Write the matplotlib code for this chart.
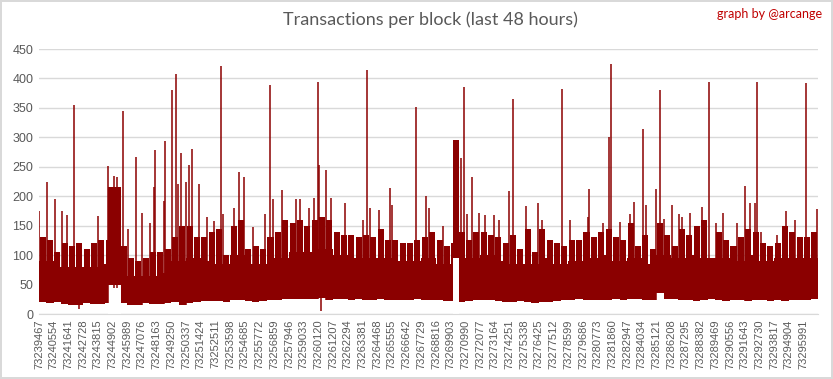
import numpy as np
import matplotlib
matplotlib.use("Agg")
import matplotlib.pyplot as plt

# Block range: 48 hours of blocks, labels every 1087 blocks
first_block = 73239467
n_blocks = 57600
label_step = 1087

# Upper edge of the dense band, one value per half label interval
band_top = [130, 125, 105, 120, 115, 120, 110, 120, 125, 125,
            120, 115, 95, 90, 95, 105, 105, 110, 130, 150,
            150, 130, 130, 140, 145, 100, 150, 160, 110, 115,
            110, 130, 140, 160, 155, 160, 150, 160, 165, 160,
            140, 135, 135, 130, 135, 130, 145, 125, 125, 120,
            120, 125, 130, 140, 125, 115, 120, 140, 125, 140,
            140, 135, 130, 120, 135, 110, 145, 105, 145, 125,
            120, 115, 125, 125, 140, 130, 140, 145, 130, 125,
            155, 115, 135, 110, 155, 135, 115, 145, 135, 150,
            160, 90, 140, 125, 115, 130, 145, 140, 120, 115,
            120, 150, 140, 130, 130, 140]

# Level up to which the band is solid, one value per label interval
band_core = [90, 80, 80, 80, 85, 80, 65, 65, 70, 90,
             95, 90, 85, 100, 85, 85, 95, 105, 105, 110,
             100, 95, 95, 95, 90, 90, 95, 85, 90, 95,
             100, 90, 85, 85, 95, 85, 90, 95, 100, 90,
             95, 85, 100, 95, 100, 95, 95, 90, 100, 90,
             95, 95, 95]

# Lower edge of the band (minimum tx per block), half interval bins
band_low = [20, 18, 20, 17, 15, 16, 18, 17, 17, 18,
            45, 18, 16, 15, 18, 17, 17, 18, 20, 15,
            18, 20, 22, 22, 22, 20, 23, 24, 22, 20,
            22, 23, 24, 25, 25, 26, 26, 25, 27, 24,
            25, 26, 24, 25, 23, 24, 25, 24, 23, 24,
            24, 25, 23, 24, 24, 22, 22, 20, 22, 23,
            24, 23, 22, 20, 21, 22, 20, 18, 20, 21,
            22, 23, 24, 25, 24, 23, 24, 23, 25, 24,
            26, 25, 24, 23, 35, 26, 25, 24, 23, 22,
            24, 25, 23, 22, 24, 23, 22, 23, 23, 22,
            24, 22, 23, 24, 23, 25]

# Busy stretches: (start offset, end offset, low, high)
burst_start = [5110, 30600]
burst_end = [6077, 31080]
burst_low = [50, 95]
burst_high = [215, 295]

# Single blocks well above the band: (offset, transactions)
spike_pos = [30, 615, 1208, 1727, 2097, 2616, 4395, 5135, 5558, 5757,
             6247, 6617, 7136, 7580, 8173, 8499, 8544, 9211, 9285, 9803,
             10100, 10300, 10470, 10841, 11063, 11285, 11804, 12400, 12968, 13434,
             13583, 14398, 14798, 15139, 15835, 16695, 17095, 17288, 17954, 18970,
             19266, 19933, 20303, 20622, 20696, 21215, 21585, 22623, 23957, 24253,
             24476, 25143, 25958, 26134, 27884, 28625, 28850, 29840, 31219, 31441,
             31663, 32034, 32552, 32996, 33663, 34034, 34775, 35072, 35990, 36879,
             37175, 38703, 39296, 40585, 40704, 41697, 42112, 42260, 42927, 43720,
             43965, 44632, 44905, 45594, 45890, 46187, 46808, 47327, 47520, 48113,
             49002, 49521, 50040, 50588, 51596, 52188, 52559, 52930, 53078, 53352,
             54538, 55227, 55894, 56709, 57550]
spike_val = [175, 224, 195, 175, 168, 355, 167, 252, 235, 232,
             345, 144, 266, 171, 155, 215, 279, 192, 294, 381,
             408, 220, 274, 224, 253, 280, 220, 165, 158, 421,
             170, 180, 241, 233, 148, 170, 389, 195, 211, 195,
             195, 180, 197, 394, 253, 244, 197, 188, 160, 414,
             180, 177, 214, 185, 352, 201, 180, 150, 265, 385,
             170, 233, 172, 168, 168, 160, 209, 365, 184, 188,
             160, 382, 160, 165, 212, 155, 300, 425, 157, 170,
             190, 314, 185, 212, 380, 162, 185, 170, 165, 172,
             182, 394, 155, 172, 155, 218, 188, 188, 394, 140,
             135, 175, 160, 392, 178]

# Blocks well below the band
dip_pos = [2964, 20815]
dip_val = [9, 5]

red = "#8B0000"
grey = "#595959"

fig = plt.figure(figsize=(8.33, 3.79), dpi=100)
fig.patch.set_edgecolor("#D9D9D9")
fig.patch.set_linewidth(1.5)
ax = fig.add_axes([0.0468, 0.1715, 0.9352, 0.6992])

edges = np.linspace(0, n_blocks, len(band_low) + 1)
binw = edges[1] - edges[0]
centers = edges[:-1] + binw / 2
low = np.r_[band_low, band_low[-1]]
core_idx = np.minimum((edges / n_blocks * len(band_core)).astype(int), len(band_core) - 1)
core = np.array(band_core)[core_idx]

# solid part of the band
ax.fill_between(edges, low, core, step="post", color=red, lw=0)
# ragged upper part: narrower bars leave thin white gaps like the original
ax.bar(centers, np.array(band_top) - core[:-1], bottom=core[:-1], width=binw * 0.82,
       color=red, lw=0)

for s, e, lo, hi in zip(burst_start, burst_end, burst_low, burst_high):
    ax.fill_between([s, e], 0, lo, color="white", lw=0)
    ax.fill_between([s, e], lo, hi, color=red, lw=0)

bin_of = lambda p: min(int(p / n_blocks * len(band_low)), len(band_low) - 1)
ax.vlines(spike_pos, [band_low[bin_of(p)] for p in spike_pos], spike_val,
          color=red, lw=1.1)
ax.vlines(dip_pos, dip_val, [band_low[bin_of(p)] + 5 for p in dip_pos],
          color=red, lw=1.1)

ax.set_xlim(-0.5, n_blocks - 0.5)
ax.set_ylim(0, 450)
ax.set_yticks(np.arange(0, 451, 50))
ax.yaxis.grid(True, color="#D9D9D9", lw=1)
ax.set_axisbelow(True)
for side in ["top", "right", "left"]:
    ax.spines[side].set_visible(False)
ax.spines["bottom"].set_color("#D9D9D9")

ticks = np.arange(0, n_blocks, label_step)
ax.set_xticks(ticks)
ax.set_xticklabels([str(first_block + t) for t in ticks], rotation=90,
                   fontsize=8, color=grey, family="Liberation Sans")
ax.tick_params(axis="both", length=0, pad=4)
for lab in ax.get_yticklabels():
    lab.set_fontsize(9)
    lab.set_color(grey)
    lab.set_family("Liberation Sans")

fig.text(0.5165, 0.947, "Transactions per block (last 48 hours)", ha="center",
         va="center", fontsize=13, color=grey, family="Lato")
fig.text(0.987, 0.963, "graph by @arcange", ha="right", va="center",
         fontsize=9, color="#C00000", family="Lato")

fig.savefig("out.png", dpi=100)
